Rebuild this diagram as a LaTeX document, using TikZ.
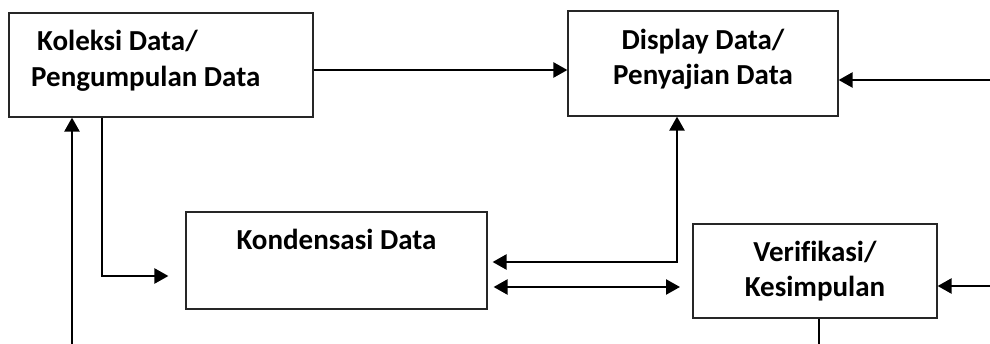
\documentclass[tikz,border=0pt]{standalone}
\usepackage{fontspec}
\setmainfont{Carlito}[Ligatures=NoCommon]
\usetikzlibrary{arrows.meta}
\begin{document}
\begin{tikzpicture}[x=1pt,y=-1pt,
  box/.style={draw=black!85,line width=1.2pt,rectangle,inner sep=0pt},
  txt/.style={font=\fontsize{29}{35}\selectfont\bfseries,inner sep=0pt},
  conn/.style={line width=2.4pt,black},
  arr/.style={conn,-{Triangle[length=14pt,width=15pt]}},
  dbl/.style={conn,{Triangle[length=14pt,width=15pt]}-{Triangle[length=14pt,width=15pt]}}]
\useasboundingbox (0,0) rectangle (990,344);

% process boxes
\node[box,minimum width=304pt,minimum height=104pt] (k1) at (161,65) {};
\node[box,minimum width=270pt,minimum height=105pt] (k2) at (703,63.5) {};
\node[box,minimum width=301pt,minimum height=97pt] (k3) at (336.5,260.5) {};
\node[box,minimum width=244pt,minimum height=94pt] (k4) at (815,271) {};

% box captions
\node[txt,anchor=base west] (t1a) at (37,51) {Koleksi Data/};
\node[txt,anchor=base west] (t1b) at (31,87) {Pengumpulan Data};
\node[txt,anchor=base] (t2a) at (703,50) {Display Data/};
\node[txt,anchor=base] (t2b) at (703,85) {Penyajian Data};
\node[txt,anchor=base] (t3) at (336.5,250) {Kondensasi Data};
\node[txt,anchor=base] (t4a) at (815,262) {Verifikasi/};
\node[txt,anchor=base] (t4b) at (815,297) {Kesimpulan};

% free ends and bends
\coordinate (r1) at (990,80);
\coordinate (r2) at (990,286);
\coordinate (b1) at (72,344);
\coordinate (b4) at (819,344);
\coordinate (e1) at (102,276);
\coordinate (c1) at (677,262);
\coordinate (c2) at (680,287);

% connectors
\draw[arr] ([yshift=-5pt]k1.east) -- ([yshift=-5pt]k1.east -| k2.west);
\draw[arr] (r1) -- (r1 -| k2.east);
\draw[arr] (r2) -- (r2 -| k4.east);
\draw[arr] (b1) -- (b1 |- k1.south);
\draw[conn] (k4.south -| b4) -- (b4);
\draw[arr] (k1.south -| e1) |- ([xshift=-17pt]k3.west |- e1);
\draw[dbl] ([xshift=5pt]k3.east |- c1) -| (k2.south -| c1);
\draw[dbl] ([xshift=6pt]k3.east |- c2) -- (c2);
\end{tikzpicture}
\end{document}
